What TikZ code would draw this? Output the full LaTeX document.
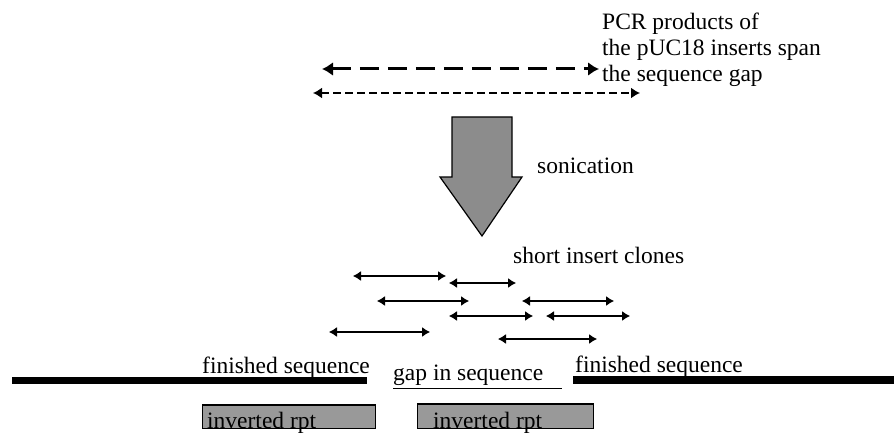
\documentclass[tikz,border=0pt]{standalone}
\usepackage{fontspec}
\setmainfont{Liberation Serif}
\usetikzlibrary{arrows.meta}
\tikzset{
x=1pt, y=-1pt,
every node/.style={font=\fontsize{23.5}{26}\selectfont, inner sep=0pt},
label text/.style={anchor=base west},
pcr long/.style={{Latex[length=11pt,width=14pt]}-{Latex[length=11pt,width=14pt]}, line width=3pt, dash pattern=on 19pt off 9pt},
pcr short/.style={{Latex[length=9pt,width=11pt]}-{Latex[length=9pt,width=11pt]}, line width=1.5pt, dash pattern=on 8pt off 4pt},
clone/.style={{Latex[length=8pt,width=10pt]}-{Latex[length=8pt,width=10pt]}, line width=1.2pt},
seq/.style={line width=7.5pt},
rpt box/.style={draw, fill=black!40, line width=0.8pt, anchor=north west},
}

\begin{document}
\begin{tikzpicture}
    \useasboundingbox (0,0) rectangle (894,433);

    % PCR products
    \node[anchor=north west, align=left] (pcr) at (602,13) {PCR products of\\the pUC18 inserts span\\the sequence gap};
    \coordinate (pa1) at (322,69);
    \coordinate (pa2) at (599,69);
    \coordinate (pb1) at (313,93);
    \coordinate (pb2) at (640,93);
    \draw[pcr long] (pa1) -- (pa2);
    \draw[pcr short] (pb1) -- (pb2);

    % sonication arrow
    \draw[fill=black!45, line width=1.2pt] (452,117) -- (512,117) -- (512,177) -- (522,177)
        -- (482,236) -- (440,177) -- (452,177) -- cycle;
    \node[label text] (son) at (537,173) {sonication};

    % short inserts
    \node[label text] (sic) at (513,263) {short insert clones};
    \foreach \xa/\xb/\y [count=\i] in {353/446/276, 449/516/283, 377/469/301, 522/614/301,
                                       449/533/316, 546/630/316, 329/430/332, 498/597/339} {
        \coordinate (cl\i) at (\xa,\y);
        \coordinate (cr\i) at (\xb,\y);
        \draw[clone] (cl\i) -- (cr\i);
    }

    % sequence
    \coordinate (sl1) at (12,380.5);
    \coordinate (sl2) at (367,380.5);
    \coordinate (sr1) at (573,380);
    \coordinate (sr2) at (894,380);
    \draw[seq] (sl1) -- (sl2);
    \draw[seq] (sr1) -- (sr2);
    \node[label text] (finl) at (202,373) {finished sequence};
    \node[label text] (finr) at (575,372) {finished sequence};
    \node[label text] (gap) at (393,380) {gap in sequence};
    \coordinate (gapu) at (562,388);
    \draw[line width=0.8pt] (gap.base west |- gapu) -- (gapu);

    % inverted repeats
    \node[rpt box, minimum width=173pt, minimum height=23pt] (rptl) at (202,405) {};
    \node[rpt box, minimum width=176pt, minimum height=24pt] (rptr) at (417,404) {};
    \draw[line width=2.5pt] (rptl.north west) -- (rptl.north east);
    \draw[line width=2.5pt] (rptr.north west) -- (rptr.north east);
    \node[label text] (invl) at (207,428) {inverted rpt};
    \node[label text] (invr) at (433,428) {inverted rpt};
\end{tikzpicture}
\end{document}
